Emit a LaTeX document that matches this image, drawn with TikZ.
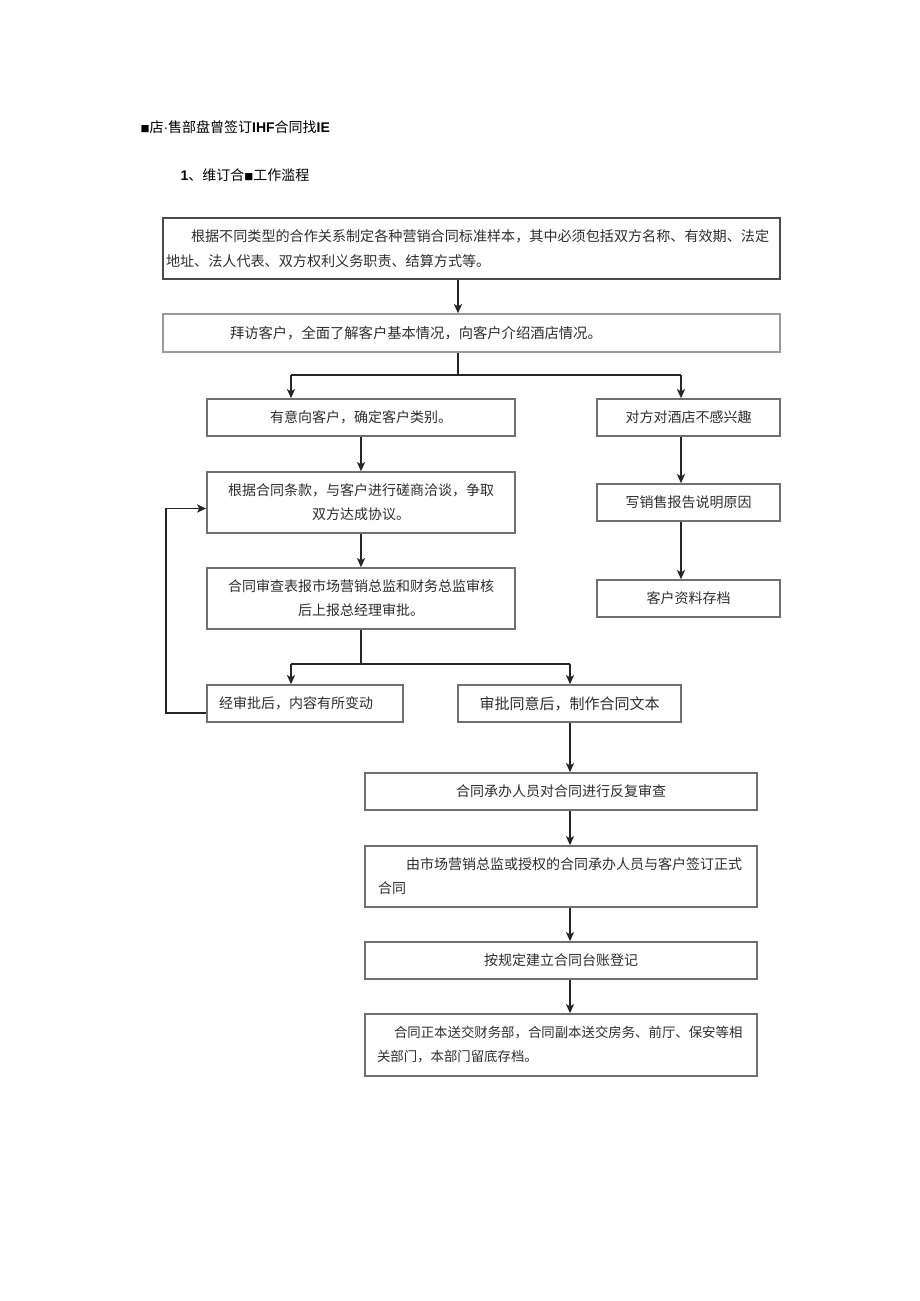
\documentclass[tikz,border=0pt]{standalone}
\usepackage{fontspec}
\newfontfamily\cjk{Noto Sans CJK SC}
\newfontfamily\latinsans{Liberation Sans}
\usetikzlibrary{arrows.meta}
\definecolor{boxgray}{HTML}{707070}
\definecolor{boxdark}{HTML}{4A4A4A}
\definecolor{boxlight}{HTML}{9A9A9A}
\definecolor{textgray}{HTML}{2E2E2E}
\newcommand{\smallsq}{{\fontsize{9}{9}\selectfont ■}}
\begin{document}
\begin{tikzpicture}[x=1pt,y=-1pt,
  box/.style={draw=boxgray, line width=1.6pt, rectangle, inner sep=0pt,
    font=\cjk\fontsize{14}{24}\selectfont, text=textgray},
  leftbox/.style={box, align=left},
  centerbox/.style={box, align=center},
  arr/.style={-{Stealth[length=9pt,width=8pt,inset=2pt]}, line width=1.7pt, draw=black!85},
  ln/.style={line width=1.7pt, draw=black!85},
  heading/.style={anchor=west, font=\cjk\fontsize{14}{16}\selectfont, text=black}]
\useasboundingbox[fill=white] (0,0) rectangle (920,1301);

% headings
\node[heading] (title) at (137,127) {\smallsq 店{\latinsans ·}售部盘曾签订{\latinsans\bfseries IHF}合同找{\latinsans\bfseries IE}};
\node[heading] (sub) at (177,175) {{\latinsans\bfseries 1}、维订合\smallsq 工作滥程};

% main boxes
\node[leftbox, draw=boxdark, minimum width=617pt, minimum height=61pt, text width=611pt,
  font=\cjk\fontsize{14.1}{25}\selectfont] (a) at (471.5,248.5)
  {\hspace*{25pt}根据不同类型的合作关系制定各种营销合同标准样本，其中必须包括双方名称、有效期、法定\\地址、法人代表、双方权利义务职责、结算方式等。};
\node[leftbox, draw=boxlight, minimum width=617pt, minimum height=38pt, text width=611pt,
  font=\cjk\fontsize{14.3}{24}\selectfont] (b) at (471.5,333)
  {\hspace*{64pt}拜访客户，全面了解客户基本情况，向客户介绍酒店情况。};

\node[centerbox, minimum width=308pt, minimum height=37pt] (c) at (361,417.5)
  {有意向客户，确定客户类别。};
\node[centerbox, minimum width=308pt, minimum height=61pt, text width=290pt] (d) at (361,502.5)
  {根据合同条款，与客户进行磋商洽谈，争取\\双方达成协议。};
\node[centerbox, minimum width=308pt, minimum height=61pt, text width=290pt] (e) at (361,598.5)
  {合同审查表报市场营销总监和财务总监审核\\后上报总经理审批。};

\node[leftbox, minimum width=196pt, minimum height=37pt, text width=172pt] (f) at (305,703.5)
  {经审批后，内容有所变动};
\node[centerbox, minimum width=223pt, minimum height=37pt,
  font=\cjk\fontsize{15}{24}\selectfont] (g) at (569.5,703.5)
  {审批同意后，制作合同文本};

% right column
\node[centerbox, minimum width=183pt, minimum height=37pt] (r1) at (688.5,417.5)
  {对方对酒店不感兴趣};
\node[centerbox, minimum width=183pt, minimum height=37pt] (r2) at (688.5,502.5)
  {写销售报告说明原因};
\node[centerbox, minimum width=183pt, minimum height=37pt] (r3) at (688.5,598.5)
  {客户资料存档};

% lower column
\node[centerbox, minimum width=392pt, minimum height=37pt] (h) at (561,791.5)
  {合同承办人员对合同进行反复审查};
\node[leftbox, minimum width=392pt, minimum height=61pt, text width=366pt] (i) at (561,876.5)
  {\hspace*{28pt}由市场营销总监或授权的合同承办人员与客户签订正式\\合同};
\node[centerbox, minimum width=392pt, minimum height=37pt] (j) at (561,960.5)
  {按规定建立合同台账登记};
\node[leftbox, minimum width=392pt, minimum height=62pt, text width=368pt,
  font=\cjk\fontsize{13.4}{24}\selectfont] (k) at (561,1045)
  {\hspace*{17pt}合同正本送交财务部，合同副本送交房务、前厅、保安等相\\关部门，本部门留底存档。};

% connectors
\coordinate (s1) at (458,375);
\coordinate (s1l) at (291,375);
\coordinate (s1r) at (681,375);
\coordinate (s2) at (361,664);
\coordinate (s2l) at (291,664);
\coordinate (s2r) at (570,664);
\coordinate (fb) at (166,713);

\draw[arr] (a.south -| s1) -- (b.north -| s1);
\draw[ln] (b.south -| s1) -- (s1);
\draw[ln] (s1l) -- (s1r);
\draw[arr] (s1l) -- (c.north -| s1l);
\draw[arr] (s1r) -- (r1.north -| s1r);
\draw[arr] (r1.south -| s1r) -- (r2.north -| s1r);
\draw[arr] (r2.south -| s1r) -- (r3.north -| s1r);

\draw[arr] (c.south) -- (d.north);
\draw[arr] (d.south) -- (e.north);
\draw[ln] (e.south) -- (s2);
\draw[ln] (s2l) -- (s2r);
\draw[arr] (s2l) -- (f.north -| s2l);
\draw[arr] (s2r) -- (g.north -| s2r);

\draw[arr] (f.west |- fb) -- (fb) |- ([yshift=-6pt]d.west);

\draw[arr] (g.south -| s2r) -- (h.north -| s2r);
\draw[arr] (h.south -| s2r) -- (i.north -| s2r);
\draw[arr] (i.south -| s2r) -- (j.north -| s2r);
\draw[arr] (j.south -| s2r) -- (k.north -| s2r);
\end{tikzpicture}
\end{document}
